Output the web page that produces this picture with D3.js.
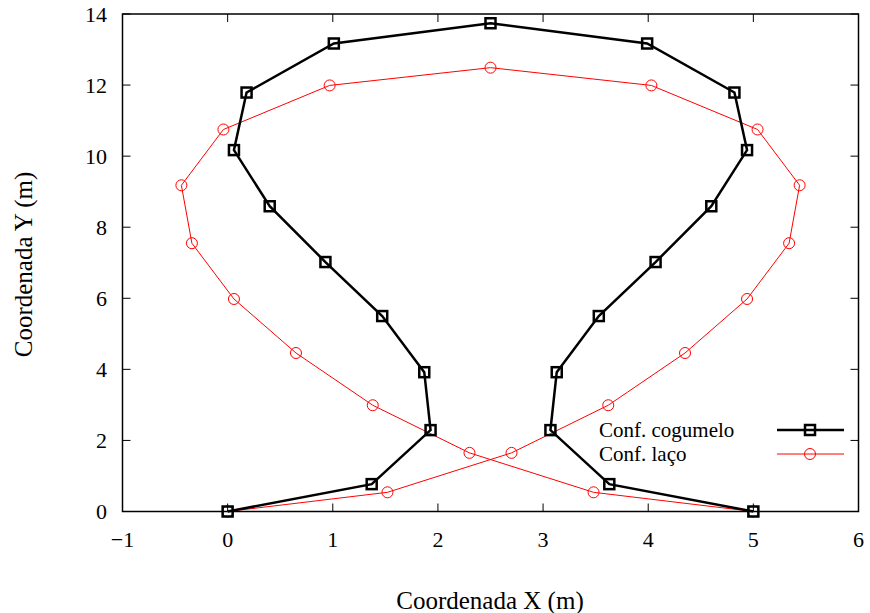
<!DOCTYPE html>
<html>
<head>
<meta charset="utf-8">
<script src="https://cdn.jsdelivr.net/npm/d3@7"></script>
<style>
  html, body { margin: 0; padding: 0; background: #fff; }
  svg text { font-family: "Liberation Serif", "Times New Roman", serif; fill: #000; }
</style>
</head>
<body>
<svg id="chart" width="870" height="613"></svg>
<script>
// Mushroom configuration (black squares)
const cogumeloX = [0, 1.37, 1.93, 1.87, 1.47, 0.93, 0.40, 0.06, 0.18, 1.01, 2.5, 3.99, 4.82, 4.94, 4.60, 4.07, 3.53, 3.13, 3.07, 3.63, 5];
const cogumeloY = [0, 0.77, 2.29, 3.92, 5.50, 7.02, 8.59, 10.17, 11.79, 13.17, 13.74, 13.17, 11.79, 10.17, 8.59, 7.02, 5.50, 3.92, 2.29, 0.77, 0];

// Loop configuration (red circles)
const lacoX = [0, 1.52, 2.70, 3.62, 4.35, 4.94, 5.34, 5.44, 5.04, 4.03, 2.5, 0.97, -0.04, -0.44, -0.34, 0.06, 0.65, 1.38, 2.30, 3.48, 5];
const lacoY = [0, 0.54, 1.65, 2.99, 4.46, 5.98, 7.55, 9.18, 10.75, 11.99, 12.49, 11.99, 10.75, 9.18, 7.55, 5.98, 4.46, 2.99, 1.65, 0.54, 0];

const xTicks = [-1, 0, 1, 2, 3, 4, 5, 6];
const yTicks = [0, 2, 4, 6, 8, 10, 12, 14];
const seriesNames = ["Conf. cogumelo", "Conf. laço"];

const svg = d3.select("#chart");
const plotLeft = 122.5, plotRight = 858.5, plotTop = 14, plotBottom = 511.5;

const x = d3.scaleLinear().domain([-1, 6]).range([plotLeft, plotRight]);
const y = d3.scaleLinear().domain([0, 14]).range([plotBottom, plotTop]);

const tickFont = 22;
const titleFont = 25;
const legendFont = 21;
const tickLen = 8;

// Tick marks on all four sides, pointing inward
const g = svg.append("g");
xTicks.forEach(t => {
  g.append("line").attr("x1", x(t)).attr("x2", x(t)).attr("y1", plotBottom).attr("y2", plotBottom - tickLen)
    .attr("stroke", "#000").attr("stroke-width", 1);
  g.append("line").attr("x1", x(t)).attr("x2", x(t)).attr("y1", plotTop).attr("y2", plotTop + tickLen)
    .attr("stroke", "#000").attr("stroke-width", 1);
  g.append("text").attr("x", x(t)).attr("y", 547).attr("text-anchor", "middle")
    .attr("font-size", tickFont).text(t < 0 ? "\u2212" + Math.abs(t) : t);
});
yTicks.forEach(t => {
  g.append("line").attr("x1", plotLeft).attr("x2", plotLeft + tickLen).attr("y1", y(t)).attr("y2", y(t))
    .attr("stroke", "#000").attr("stroke-width", 1);
  g.append("line").attr("x1", plotRight).attr("x2", plotRight - tickLen).attr("y1", y(t)).attr("y2", y(t))
    .attr("stroke", "#000").attr("stroke-width", 1);
  g.append("text").attr("x", 107).attr("y", y(t) + 7.5).attr("text-anchor", "end")
    .attr("font-size", tickFont).text(t);
});

// Frame
svg.append("rect").attr("x", plotLeft).attr("y", plotTop)
  .attr("width", plotRight - plotLeft).attr("height", plotBottom - plotTop)
  .attr("fill", "none").attr("stroke", "#000").attr("stroke-width", 1.5);

// Axis titles
svg.append("text").attr("x", 490).attr("y", 609).attr("text-anchor", "middle")
  .attr("font-size", titleFont).text("Coordenada X (m)");
svg.append("text").attr("transform", "translate(32, 264.5) rotate(-90)")
  .attr("text-anchor", "middle").attr("font-size", titleFont).text("Coordenada Y (m)");

const line = d3.line().x(d => x(d[0])).y(d => y(d[1]));
const cogumelo = cogumeloX.map((v, i) => [v, cogumeloY[i]]);
const laco = lacoX.map((v, i) => [v, lacoY[i]]);

const plot = svg.append("g");

// Loop configuration
plot.append("path").datum(laco).attr("d", line).attr("fill", "none")
  .attr("stroke", "#ff0000").attr("stroke-width", 1);
plot.selectAll("circle.laco").data(laco).join("circle").attr("class", "laco")
  .attr("cx", d => x(d[0])).attr("cy", d => y(d[1])).attr("r", 5.5)
  .attr("fill", "none").attr("stroke", "#ff0000").attr("stroke-width", 1);

// Mushroom configuration
plot.append("path").datum(cogumelo).attr("d", line).attr("fill", "none")
  .attr("stroke", "#000").attr("stroke-width", 2.5).attr("stroke-linejoin", "miter");
const sq = 10;
plot.selectAll("rect.cog").data(cogumelo).join("rect").attr("class", "cog")
  .attr("x", d => x(d[0]) - sq / 2).attr("y", d => y(d[1]) - sq / 2)
  .attr("width", sq).attr("height", sq)
  .attr("fill", "none").attr("stroke", "#000").attr("stroke-width", 2.5);

// Legend
const legend = svg.append("g");
const rowY = [430, 454];
seriesNames.forEach((name, i) => {
  legend.append("text").attr("x", 599).attr("y", rowY[i] + 7).attr("font-size", legendFont).text(name);
  legend.append("line").attr("x1", 777).attr("x2", 844).attr("y1", rowY[i]).attr("y2", rowY[i])
    .attr("stroke", i === 0 ? "#000" : "#ff0000").attr("stroke-width", i === 0 ? 2.5 : 1);
  if (i === 0) {
    legend.append("rect").attr("x", 810 - sq / 2).attr("y", rowY[i] - sq / 2).attr("width", sq).attr("height", sq)
      .attr("fill", "none").attr("stroke", "#000").attr("stroke-width", 2.5);
  } else {
    legend.append("circle").attr("cx", 810).attr("cy", rowY[i]).attr("r", 5.5)
      .attr("fill", "none").attr("stroke", "#ff0000").attr("stroke-width", 1);
  }
});
</script>
</body>
</html>
